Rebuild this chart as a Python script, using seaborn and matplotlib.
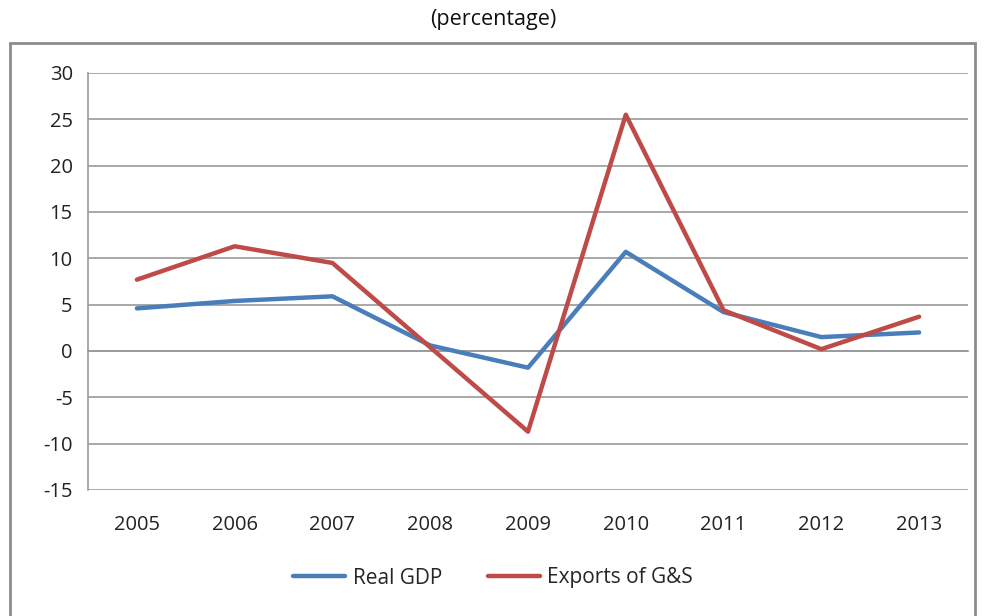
import matplotlib
matplotlib.use("Agg")
import matplotlib.pyplot as plt
import matplotlib.transforms as mtransforms
from matplotlib.patches import Rectangle
import seaborn as sns
import pandas as pd

# ---------------------------------- Data ----------------------------------

years = ["2005", "2006", "2007", "2008", "2009", "2010", "2011", "2012", "2013"]
real_gdp = [4.6, 5.4, 5.9, 0.6, -1.8, 10.7, 4.2, 1.5, 2.0]
exports = [7.7, 11.3, 9.5, 0.4, -8.7, 25.5, 4.4, 0.2, 3.7]
series_names = ["Real GDP", "Exports of G&S"]
colors = ["#4A7EBB", "#BE4B48"]

df = pd.DataFrame({
    "year_idx": list(range(len(years))) * 2,
    "value": real_gdp + exports,
    "series": [series_names[0]] * len(years) + [series_names[1]] * len(years),
})

# ---------------------------------- Plot ----------------------------------

sns.set_style("white")
plt.rcParams["font.family"] = ["Open Sans", "DejaVu Sans"]

fig = plt.figure(figsize=(9.86, 6.16), dpi=100)
ax = fig.add_axes([88 / 986, 1 - 490 / 616, 880 / 986, 417 / 616])

grid_col = "#9A9A9A"
for v in range(-15, 31, 5):
    ax.axhline(v, color=grid_col, lw=1.2, zorder=0)

sns.lineplot(data=df, x="year_idx", y="value", hue="series", palette=colors,
             linewidth=3.2, ax=ax, legend=True, zorder=3)

ax.set_xlim(-0.5, len(years) - 0.5)
ax.set_ylim(-15, 30)
ax.set_yticks(range(-15, 31, 5))
ax.set_yticklabels([str(v) for v in range(-15, 31, 5)], fontsize=14.5, color="#222222")
ax.tick_params(axis="y", direction="out", length=5, color=grid_col, width=1.2, pad=6)

# category axis sits on zero line
for s in ["top", "right"]:
    ax.spines[s].set_visible(False)
ax.spines["left"].set_color(grid_col)
ax.spines["left"].set_linewidth(1.2)
ax.spines["bottom"].set_position(("data", 0))
ax.spines["bottom"].set_color(grid_col)
ax.spines["bottom"].set_linewidth(1.2)
ax.set_xticks([i * 0.5 for i in range(2 * len(years))])
ax.set_xticklabels([])
ax.tick_params(axis="x", direction="out", length=6, color=grid_col, width=1.2)
ax.set_xlabel("")
ax.set_ylabel("")

trans = mtransforms.blended_transform_factory(ax.transData, ax.transAxes)
for i, y in enumerate(years):
    ax.text(i, -0.085, y, transform=trans, ha="center", va="center",
            fontsize=14.5, color="#222222")

# legend at the bottom
handles, labels = ax.get_legend_handles_labels()
ax.legend_.remove()
fig.legend(handles, labels, loc="center", bbox_to_anchor=(0.5, 1 - 578 / 616),
           ncol=2, frameon=False, fontsize=15, handlelength=2.5,
           columnspacing=2.2, handletextpad=0.35)

fig.text(0.5, 1 - 20 / 616, "(percentage)", ha="center", va="center",
         fontsize=15.5, color="#111111")

# outer chart border
fig.patches.append(Rectangle((10 / 986, -0.05), 965 / 986, 1 - 43 / 616 + 0.05,
                             transform=fig.transFigure, fill=False,
                             edgecolor="#8C8C8C", linewidth=2))

fig.savefig("out.png", dpi=100)
